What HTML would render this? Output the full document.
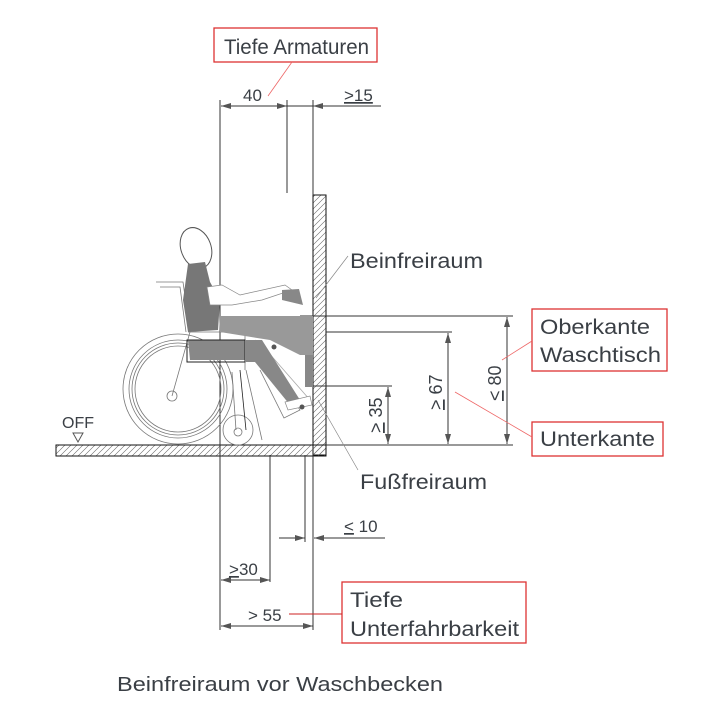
<!DOCTYPE html>
<html><head><meta charset="utf-8"><style>
html,body{margin:0;padding:0;background:#fff;}
svg{display:block;}
text{font-family:"Liberation Sans",sans-serif;fill:#3a3f45;}
</style></head><body>
<svg width="712" height="721" viewBox="0 0 712 721" xmlns="http://www.w3.org/2000/svg">
<defs>
<pattern id="h" width="6" height="6" patternUnits="userSpaceOnUse">
<path d="M-1,7 L7,-1 M-1,1 L1,-1 M5,7 L7,5" stroke="#666" stroke-width="0.6"/>
</pattern>
<marker id="a" viewBox="0 0 10 6" refX="10" refY="3" markerWidth="10" markerHeight="6" orient="auto-start-reverse" markerUnits="userSpaceOnUse">
<path d="M0,0 L10,3 L0,6 Z" fill="#555"/>
</marker>
</defs>
<g stroke="#333" stroke-width="1" fill="none">
<rect x="313" y="195" width="13" height="260" fill="url(#h)" stroke="#111"/>
<rect x="56" y="445" width="270" height="11" fill="url(#h)" stroke="#111"/>
<line x1="220" y1="100" x2="220" y2="630"/>
<line x1="287" y1="100" x2="287" y2="193"/>
<line x1="313" y1="100" x2="313" y2="195"/>
<line x1="313" y1="455" x2="313" y2="630"/>
<line x1="270" y1="455" x2="270" y2="582"/>
<line x1="305" y1="455" x2="305" y2="542"/>
<line x1="300" y1="316" x2="513" y2="316"/>
<line x1="326" y1="332" x2="452" y2="332"/>
<line x1="313" y1="386" x2="392" y2="386"/>
<line x1="326" y1="445" x2="513" y2="445"/>
<line x1="221" y1="106" x2="287" y2="106" marker-start="url(#a)" marker-end="url(#a)"/>
<line x1="287" y1="106" x2="313" y2="106"/>
<line x1="381" y1="106" x2="313" y2="106" marker-end="url(#a)"/>
<line x1="507" y1="317" x2="507" y2="444" marker-start="url(#a)" marker-end="url(#a)"/>
<line x1="448" y1="333" x2="448" y2="444" marker-start="url(#a)" marker-end="url(#a)"/>
<line x1="388" y1="387" x2="388" y2="444" marker-start="url(#a)" marker-end="url(#a)"/>
<line x1="279" y1="538" x2="305" y2="538" marker-end="url(#a)"/>
<line x1="385" y1="538" x2="314" y2="538" marker-end="url(#a)"/>
<line x1="221" y1="580" x2="270" y2="580" marker-start="url(#a)" marker-end="url(#a)"/>
<line x1="221" y1="626" x2="313" y2="626" marker-start="url(#a)" marker-end="url(#a)"/>
<path d="M73,433 L83,433 L78,442 Z" stroke="#555"/>
<line x1="348" y1="256" x2="316" y2="298" stroke="#888" stroke-width="0.7"/>
<line x1="318" y1="400" x2="358" y2="470" stroke="#888" stroke-width="0.7"/>
</g>
<g stroke="#777" stroke-width="0.8" fill="none">
<circle cx="178" cy="389" r="55"/><circle cx="178" cy="389" r="49"/><circle cx="178" cy="389" r="46"/><circle cx="178" cy="389" r="43"/>
<circle cx="172" cy="396" r="5"/>
<circle cx="238" cy="430" r="15"/><circle cx="238" cy="432" r="4"/>
<path d="M156,282 L183,282 L190,332 L172,396"/>
<path d="M160,287 L180,287 L186,332"/>
<path d="M188,332 L245,332 L245,370"/>
<path d="M246,370 L262,440"/>
<path d="M232,372 L236,430"/>
<path d="M240,370 L246,430" stroke="#222"/>
<path d="M255,340 L300,410 L284,418 L260,370"/>
<path d="M268,352 L310,400" stroke="#aaa"/>
</g>
<ellipse cx="196" cy="248" rx="15" ry="21" transform="rotate(-20 196 248)" fill="#fff" stroke="#555"/>
<path d="M188,264 L205,262 L210,282 L220,300 L218,330 L188,332 L183,300 Z" fill="#777"/>
<path d="M207,287 L222,285 L240,295 L285,285 L292,290 L262,300 L232,305 L210,305 Z" fill="#fff" stroke="#888" stroke-width="0.7"/>
<path d="M282,290 L299,289 L303,305 L282,300 Z" fill="#888"/>
<path d="M219,316 L313,316 L313,355 L300,355 L270,340 L220,332 Z" fill="#999"/>
<path d="M188,340 L245,340 L245,360 L190,360 Z" fill="#888"/>
<rect x="187" y="340" width="58" height="22" fill="none" stroke="#222" stroke-width="1"/>
<path d="M245,340 L262,340 L300,400 L290,405 L255,362 L245,362 Z" fill="#888"/>
<rect x="305" y="355" width="8" height="32" fill="#888"/>
<path d="M285,402 L310,396 L312,405 L288,410 Z" fill="#fff" stroke="#888" stroke-width="0.7"/>
<circle cx="274" cy="347" r="2.5" fill="#555"/><circle cx="302" cy="407" r="2.5" fill="#555"/>
<g stroke="#d33" stroke-width="1.3" fill="#fff">
<rect x="214" y="28" width="163" height="34"/>
<rect x="532" y="309" width="135" height="62"/>
<rect x="532" y="422" width="131" height="34"/>
<rect x="342" y="582" width="184" height="61"/>
</g>
<g stroke="#e66" stroke-width="0.8">
<line x1="292" y1="62" x2="268" y2="96"/>
<line x1="532" y1="341" x2="502" y2="360"/>
<line x1="532" y1="437" x2="455" y2="392"/>
</g>
<line x1="289" y1="614" x2="342" y2="614" stroke="#c22" stroke-width="1"/>
<text x="224" y="54" font-size="21" textLength="145" lengthAdjust="spacingAndGlyphs">Tiefe Armaturen</text>
<text x="540" y="334" font-size="21" textLength="110" lengthAdjust="spacingAndGlyphs">Oberkante</text>
<text x="540" y="362" font-size="21" textLength="121" lengthAdjust="spacingAndGlyphs">Waschtisch</text>
<text x="540" y="446" font-size="21" textLength="115" lengthAdjust="spacingAndGlyphs">Unterkante</text>
<text x="350" y="607" font-size="21" textLength="53" lengthAdjust="spacingAndGlyphs">Tiefe</text>
<text x="350" y="636" font-size="21" textLength="169" lengthAdjust="spacingAndGlyphs">Unterfahrbarkeit</text>
<text x="350" y="268" font-size="21" textLength="133" lengthAdjust="spacingAndGlyphs">Beinfreiraum</text>
<text x="360" y="489" font-size="21" textLength="127" lengthAdjust="spacingAndGlyphs">Fußfreiraum</text>
<text x="243" y="101" font-size="17">40</text>
<text x="344" y="101" font-size="17" text-decoration="underline">&gt;15</text>
<text x="344" y="532" font-size="17"><tspan text-decoration="underline">&lt;</tspan> 10</text>
<text x="229" y="575" font-size="17"><tspan text-decoration="underline">&gt;</tspan>30</text>
<text x="248" y="621" font-size="17">&gt; 55</text>
<text x="62" y="428" font-size="16">OFF</text>
<text transform="translate(382,433) rotate(-90)" font-size="18"><tspan text-decoration="underline">&gt;</tspan> 35</text>
<text transform="translate(442,410) rotate(-90)" font-size="18"><tspan text-decoration="underline">&gt;</tspan> 67</text>
<text transform="translate(501,401) rotate(-90)" font-size="18"><tspan text-decoration="underline">&lt;</tspan> 80</text>
<text x="117" y="691" font-size="20" textLength="326" lengthAdjust="spacingAndGlyphs">Beinfreiraum vor Waschbecken</text>
</svg>
</body></html>
